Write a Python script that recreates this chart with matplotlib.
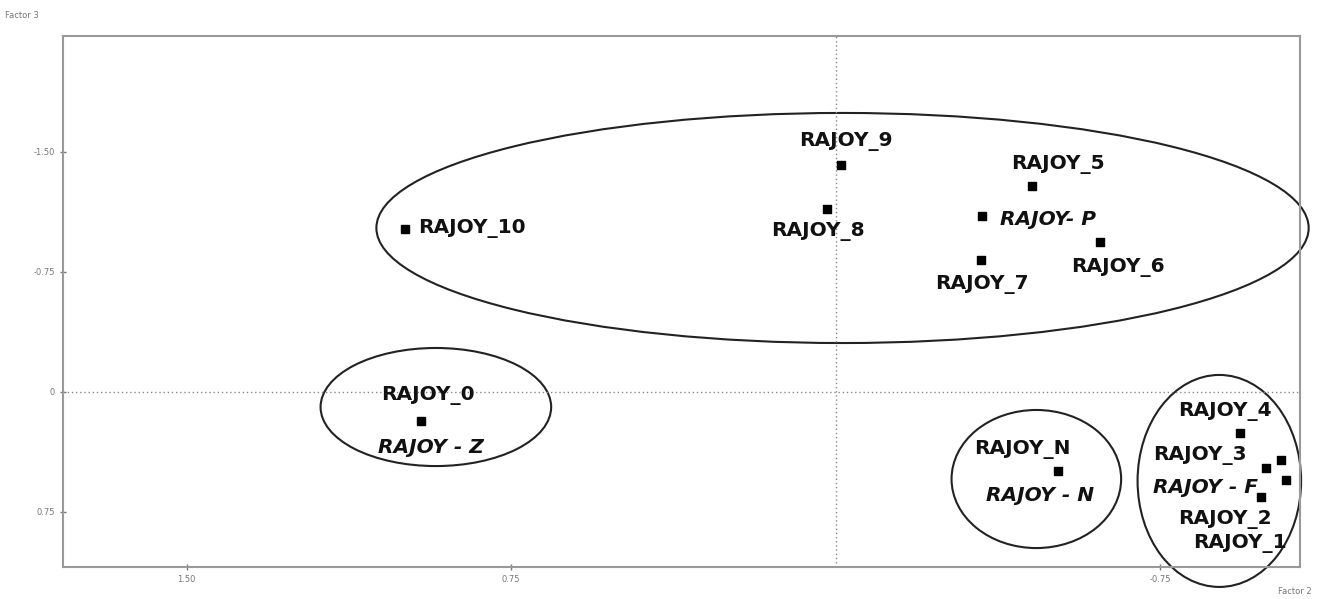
import numpy as np
import matplotlib
matplotlib.use('Agg')
import matplotlib.pyplot as plt
from matplotlib.patches import Ellipse

plt.rcParams['font.family'] = ['DejaVu Sans']

# point coordinates (Factor 2, Factor 3)
names = ['RAJOY_10', 'RAJOY_9', 'RAJOY_8', 'RAJOY_5', 'RAJOY-P', 'RAJOY_6', 'RAJOY_7',
         'RAJOY_0', 'RAJOY_N', 'RAJOY_4', 'RAJOY_3', 'RAJOY_F', 'RAJOY_2b', 'RAJOY_1']
f2 = [0.995, -0.012, 0.021, -0.455, -0.339, -0.612, -0.335,
      0.958, -0.515, -0.935, -0.995, -1.029, -1.041, -0.983]
f3 = [-1.019, -1.419, -1.144, -1.288, -1.100, -0.938, -0.825,
      0.181, 0.494, 0.256, 0.475, 0.425, 0.550, 0.656]

# text labels
lab_txt = ['RAJOY_10', 'RAJOY_9', 'RAJOY_8', 'RAJOY_5', 'RAJOY- P', 'RAJOY_6', 'RAJOY_7',
           'RAJOY_0', 'RAJOY - Z', 'RAJOY_N', 'RAJOY - N', 'RAJOY_4', 'RAJOY_3',
           'RAJOY - F', 'RAJOY_2', 'RAJOY_1']
lab_x = [0.965, -0.023, 0.042, -0.515, -0.492, -0.653, -0.339,
         0.942, 0.935, -0.432, -0.473, -0.900, -0.842, -0.854, -0.900, -0.935]
lab_y = [-1.019, -1.5625, -1.006, -1.419, -1.081, -0.775, -0.669,
         0.025, 0.35, 0.3625, 0.644, 0.119, 0.40, 0.60, 0.80, 0.944]
lab_it = [False, False, False, False, True, False, False,
          False, True, False, True, False, False, True, False, False]
lab_ha = ['left', 'center', 'center', 'center', 'center', 'center', 'center',
          'center', 'center', 'center', 'center', 'center', 'center', 'center', 'center', 'center']

# ellipses: center x, center y, width, height (data units)
ell_cx = [-0.016, 0.924, -0.464, -0.887]
ell_cy = [-1.025, 0.094, 0.544, 0.556]
ell_w = [2.155, 0.533, 0.392, 0.378]
ell_h = [1.438, 0.738, 0.863, 1.325]

fig = plt.figure(figsize=(13.2, 5.99), dpi=100)
ax = fig.add_axes([0.0477, 0.0534, 0.937, 0.8865])

ax.set_xlim(1.786, -1.073)
ax.set_ylim(1.094, -2.225)

ax.axhline(0, color='#888888', lw=1, ls=(0, (1, 2)))
ax.axvline(0, color='#888888', lw=1, ls=(0, (1, 2)))

ax.scatter(f2, f3, marker='s', s=34, color='black', zorder=3)

for t, x, y, it, ha in zip(lab_txt, lab_x, lab_y, lab_it, lab_ha):
    ax.text(x, y, t, fontsize=14.5, fontweight='bold', style='italic' if it else 'normal',
            ha=ha, va='center', color='#111111')

for cx, cy, w, h in zip(ell_cx, ell_cy, ell_w, ell_h):
    ax.add_patch(Ellipse((cx, cy), w, h, fill=False, edgecolor='#222222', lw=1.5, clip_on=False))

ax.set_xticks([1.5, 0.75, -0.75])
ax.set_xticklabels(['1.50', '0.75', '-0.75'])
ax.set_yticks([-1.5, -0.75, 0, 0.75])
ax.set_yticklabels(['-1.50', '-0.75', '0', '0.75'])
ax.tick_params(direction='inout', length=5, width=1, color='#777777',
               labelsize=6, labelcolor='#777777')
for s in ax.spines.values():
    s.set_color('#999999')
    s.set_linewidth(1.5)

fig.text(5 / 1320, 1 - 15 / 599, 'Factor 3', fontsize=6, color='#777777', va='center')
fig.text(1312 / 1320, 1 - 592 / 599, 'Factor 2', fontsize=6, color='#777777', va='center', ha='right')

fig.savefig('out.png', dpi=100)
